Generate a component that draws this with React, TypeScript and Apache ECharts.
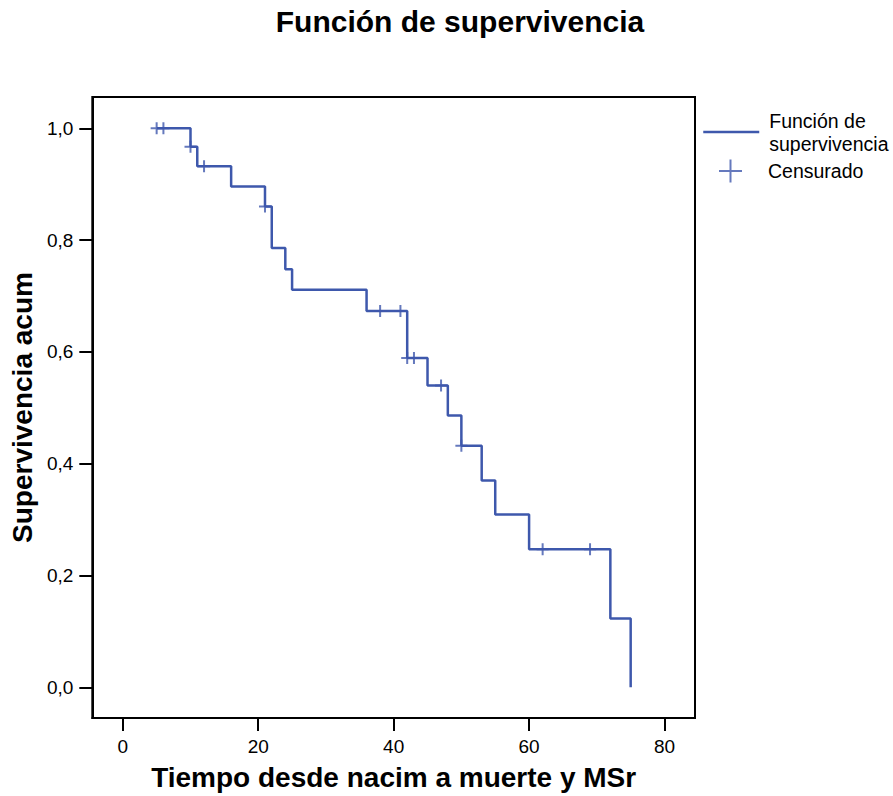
import React, { useEffect, useRef } from "react";
import * as echarts from "echarts";

// Kaplan-Meier step points (time, cumulative survival)
const eventTimes = [5, 10, 11, 16, 21, 22, 24, 25, 36, 42, 45, 48, 50, 53, 55, 60, 72, 75];
const survival = [1.0, 0.967, 0.932, 0.896, 0.86, 0.786, 0.748, 0.711, 0.673, 0.589, 0.54, 0.486, 0.432, 0.37, 0.309, 0.247, 0.123, 0.0];

// Censored observations
const censorTimes = [5, 6, 10, 12, 21, 38, 41, 42, 43, 47, 50, 62, 69];
const censorSurvival = [1.0, 1.0, 0.967, 0.932, 0.86, 0.673, 0.673, 0.589, 0.589, 0.54, 0.432, 0.247, 0.247];

const xTicks = [0, 20, 40, 60, 80];
const yTicks = [0, 0.2, 0.4, 0.6, 0.8, 1.0];

const TITLE = "Función de supervivencia";
const X_NAME = "Tiempo desde nacim a muerte y MSr";
const Y_NAME = "Supervivencia acum";
const LINE_NAME = "Función de supervivencia";
const CENSOR_NAME = "Censurado";

const BLUE = "#3e58ac";
const FONT = "'Liberation Sans', Arial, Helvetica, sans-serif";

export default function App() {
  const ref = useRef<HTMLDivElement>(null);

  useEffect(() => {
    if (!ref.current) return;
    const chart = echarts.init(ref.current, null, { renderer: "svg" });
    const lineData = eventTimes.map((t, i) => [t, survival[i]]);
    const censorData = censorTimes.map((t, i) => [t, censorSurvival[i]]);

    chart.setOption({
      animation: false,
      backgroundColor: "#ffffff",
      textStyle: { fontFamily: FONT, color: "#000" },
      title: {
        text: TITLE,
        left: 460,
        textAlign: "center",
        top: 6,
        padding: 0,
        textStyle: { fontFamily: FONT, fontSize: 30, fontWeight: "bold", color: "#000" },
      },
      legend: [
        {
          data: [{ name: LINE_NAME, itemStyle: { opacity: 0 } }],
          orient: "vertical",
          left: 702,
          top: 109,
          padding: 0,
          itemWidth: 56,
          itemHeight: 14,
          selectedMode: false,
          lineStyle: { width: 2.5 },
          formatter: () => "Función de\nsupervivencia",
          textStyle: { fontFamily: FONT, fontSize: 19.5, lineHeight: 23, color: "#000", padding: [0, 0, 0, 5] },
        },
        {
          data: [
            {
              name: CENSOR_NAME,
              icon: "path://M10.5,0 H12.5 V10.5 H23 V12.5 H12.5 V23 H10.5 V12.5 H0 V10.5 H10.5 Z",
            },
          ],
          orient: "vertical",
          left: 719,
          top: 159.5,
          padding: 0,
          itemWidth: 23,
          itemHeight: 23,
          selectedMode: false,
          textStyle: { fontFamily: FONT, fontSize: 19.5, color: "#000", padding: [0, 0, 0, 21] },
        },
      ],
      grid: {
        left: 91,
        top: 97,
        width: 604,
        height: 622,
        show: true,
        borderColor: "#000",
        borderWidth: 2,
        backgroundColor: "transparent",
        containLabel: false,
      },
      xAxis: {
        type: "value",
        min: -4.5,
        max: 84.5,
        name: X_NAME,
        nameLocation: "middle",
        nameGap: 45,
        nameTextStyle: { fontFamily: FONT, fontSize: 28, fontWeight: "bold", color: "#000" },
        axisLine: { show: true, onZero: false, lineStyle: { color: "#000", width: 2 } },
        axisTick: { show: true, inside: false, length: 13, customValues: xTicks, lineStyle: { color: "#000", width: 2 } },
        axisLabel: {
          customValues: xTicks,
          margin: 19,
          fontFamily: FONT,
          fontSize: 19,
          color: "#000",
        },
        splitLine: { show: false },
      },
      yAxis: {
        type: "value",
        min: -0.055,
        max: 1.056,
        name: Y_NAME,
        nameLocation: "middle",
        nameGap: 50,
        nameRotate: 90,
        nameTextStyle: { fontFamily: FONT, fontSize: 28, fontWeight: "bold", color: "#000" },
        axisLine: { show: true, onZero: false, lineStyle: { color: "#000", width: 2 } },
        axisTick: { show: true, inside: false, length: 13, customValues: yTicks, lineStyle: { color: "#000", width: 2 } },
        axisLabel: {
          customValues: yTicks,
          margin: 19,
          fontFamily: FONT,
          fontSize: 19,
          color: "#000",
          formatter: (v: number) => v.toFixed(1).replace(".", ","),
        },
        splitLine: { show: false },
      },
      series: [
        {
          name: LINE_NAME,
          type: "line",
          step: "end",
          data: lineData,
          symbol: "none",
          showSymbol: false,
          lineStyle: { color: BLUE, width: 2.5 },
          itemStyle: { color: BLUE },
          z: 2,
        },
        {
          name: CENSOR_NAME,
          type: "scatter",
          data: censorData,
          symbol: "path://M5,0 H7 V5 H12 V7 H7 V12 H5 V7 H0 V5 H5 Z",
          symbolSize: 12,
          itemStyle: { color: BLUE },
          z: 3,
        },
      ],
    });

    return () => chart.dispose();
  }, []);

  return (
    <div
      ref={ref}
      style={{ position: "absolute", left: 0, top: 0, width: 893, height: 796, background: "#fff" }}
    />
  );
}
